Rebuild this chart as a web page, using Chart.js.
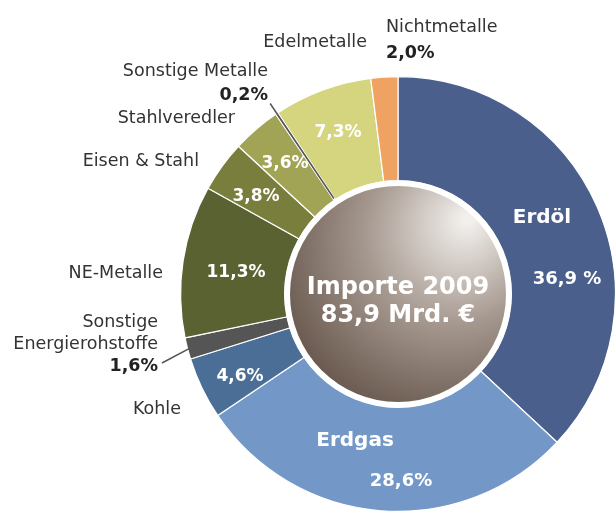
<!DOCTYPE html>
<html>
<head>
<meta charset="utf-8">
<script src="https://cdn.jsdelivr.net/npm/chart.js@4/dist/chart.umd.min.js"></script>
<style>
  html, body { margin: 0; padding: 0; background: #fff; }
  #wrap { width: 616px; height: 513px; }
</style>
</head>
<body>
<div id="wrap"><canvas id="importChart" width="616" height="513"></canvas></div>
<script>
// ── Data ──────────────────────────────────────────────────────────────────────
const categories = ['Erdöl', 'Erdgas', 'Kohle', 'Sonstige Energierohstoffe', 'NE-Metalle',
  'Eisen & Stahl', 'Stahlveredler', 'Sonstige Metalle', 'Edelmetalle', 'Nichtmetalle'];
const shares = [36.9, 28.6, 4.6, 1.6, 11.3, 3.8, 3.6, 0.2, 7.3, 2.0];
const shareLabels = ['36,9 %', '28,6%', '4,6%', '1,6%', '11,3%', '3,8%', '3,6%', '0,2%', '7,3%', '2,0%'];
const colors = ['#4b5f8c', '#7398c8', '#4a6e96', '#555555', '#5b6232',
  '#7a7e3c', '#a1a455', '#767676', '#d5d57f', '#f0a262'];
const centerLines = ['Importe 2009', '83,9 Mrd. €'];

const SANS = '"DejaVu Sans", Verdana, sans-serif';

// ── Text plugin: centre disc and labels ───────────────────────────────────────
const labelPlugin = {
  id: 'labels',
  afterDatasetsDraw(chart) {
    const c = chart.ctx;
    const arcs = chart.getDatasetMeta(0).data;
    const x0 = arcs[0].x, y0 = arcs[0].y;
    const inner = arcs[0].innerRadius;

    // centre disc
    c.save();
    c.beginPath();
    c.arc(x0, y0, inner + 1, 0, Math.PI * 2);
    c.fillStyle = '#ffffff';
    c.fill();
    const g = c.createRadialGradient(x0 + 70, y0 - 75, 5, x0 + 40, y0 - 40, 190);
    g.addColorStop(0, '#f2efec');
    g.addColorStop(0.45, '#a69990');
    g.addColorStop(1, '#5b4a40');
    c.beginPath();
    c.arc(x0, y0, inner - 5, 0, Math.PI * 2);
    c.fillStyle = g;
    c.fill();

    c.fillStyle = '#ffffff';
    c.textAlign = 'center';
    c.textBaseline = 'middle';
    c.font = 'bold 24px ' + SANS;
    c.fillText(centerLines[0], x0, y0 - 6);
    c.fillText(centerLines[1], x0, y0 + 22);

    // inside labels (white bold)
    const white = (t, x, y, size) => {
      c.font = 'bold ' + size + 'px ' + SANS;
      c.fillStyle = '#ffffff';
      c.textAlign = 'center';
      c.fillText(t, x, y);
    };
    white(categories[0], 542, 218, 20);
    white(shareLabels[0], 567, 279, 18);
    white(categories[1], 355, 441, 20);
    white(shareLabels[1], 401, 481, 18);
    white(shareLabels[2], 240, 377, 17);
    white(shareLabels[4], 236, 273, 17);
    white(shareLabels[5], 256, 197, 17);
    white(shareLabels[6], 285, 164, 17);
    white(shareLabels[8], 338, 133, 17);

    // outside labels (dark)
    const dark = (t, x, y, align, bold) => {
      c.font = (bold ? 'bold ' : '') + '17.5px ' + SANS;
      c.fillStyle = bold ? '#222222' : '#333333';
      c.textAlign = align;
      c.fillText(t, x, y);
    };
    dark(categories[9], 386, 27, 'left');
    dark(shareLabels[9], 386, 53, 'left', true);
    dark(categories[8], 367, 42, 'right');
    dark(categories[7], 268, 71, 'right');
    dark(shareLabels[7], 268, 95, 'right', true);
    dark(categories[6], 235, 118, 'right');
    dark(categories[5], 199, 161, 'right');
    dark(categories[4], 163, 273, 'right');
    dark('Sonstige', 158, 322, 'right');
    dark('Energierohstoffe', 158, 344, 'right');
    dark(shareLabels[3], 158, 366, 'right', true);
    dark(categories[2], 181, 409, 'right');

    // leader lines
    c.strokeStyle = '#555555';
    c.lineWidth = 1.5;
    const sm = arcs[7];
    const a = (sm.startAngle + sm.endAngle) / 2;
    c.beginPath();
    c.moveTo(x0 + Math.cos(a) * (inner + 2), y0 + Math.sin(a) * (inner + 2));
    c.lineTo(x0 + Math.cos(a) * (sm.outerRadius + 12), y0 + Math.sin(a) * (sm.outerRadius + 12));
    c.stroke();
    const se = arcs[3];
    const b = (se.startAngle + se.endAngle) / 2;
    c.beginPath();
    c.moveTo(x0 + Math.cos(b) * (se.outerRadius - 4), y0 + Math.sin(b) * (se.outerRadius - 4));
    c.lineTo(162, 363);
    c.stroke();
    c.restore();
  }
};

// ── Chart ─────────────────────────────────────────────────────────────────────
new Chart(document.getElementById('importChart'), {
  type: 'doughnut',
  data: {
    labels: categories,
    datasets: [{
      data: shares,
      backgroundColor: colors,
      borderColor: '#ffffff',
      borderWidth: 1.2,
      hoverOffset: 0
    }]
  },
  options: {
    responsive: false,
    animation: false,
    cutout: 113,
    layout: { padding: { left: 180, right: 0, top: 76, bottom: 1 } },
    plugins: {
      legend: { display: false },
      tooltip: { enabled: false }
    }
  },
  plugins: [labelPlugin]
});
</script>
</body>
</html>
